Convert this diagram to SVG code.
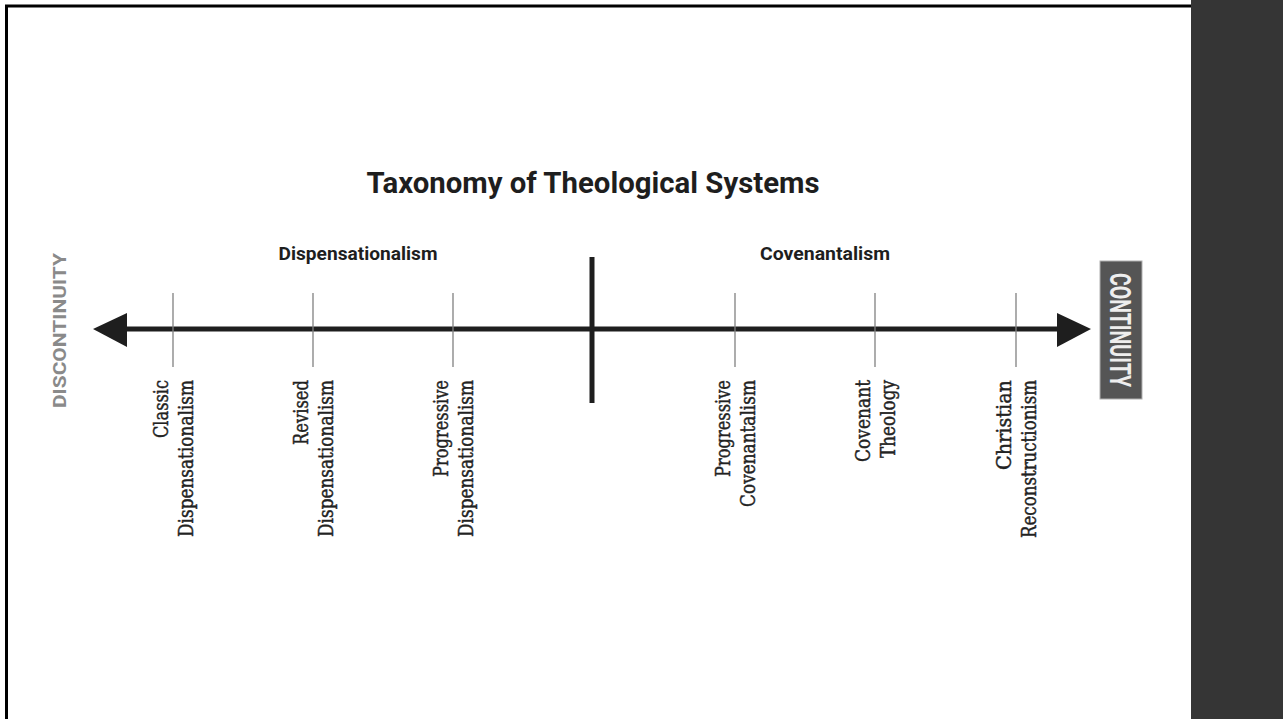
<svg xmlns="http://www.w3.org/2000/svg" width="1283" height="719" viewBox="0 0 1283 719">
<style>
.title{font-family:Roboto,"Liberation Sans",sans-serif;font-weight:bold;font-size:29px;fill:#1e1e1e;text-anchor:middle}
.hdr{font-family:Roboto,"Liberation Sans",sans-serif;font-weight:bold;font-size:18px;fill:#1e1e1e;text-anchor:middle}
.lbl{font-family:"DejaVu Serif","Liberation Serif",serif;font-size:20px;fill:#222;stroke:#222;stroke-width:0.45;text-anchor:end}
.tick{stroke:#808080;stroke-width:1.3}
.axis{stroke:#1e1e1e;stroke-width:5;fill:none}
.head{fill:#1e1e1e}
.dis{font-family:Roboto,"Liberation Sans",sans-serif;font-weight:bold;font-size:19px;fill:#8a8a8a}
.con{font-family:Roboto,"Liberation Sans",sans-serif;font-weight:bold;font-size:30px;fill:#eeeeee}
</style>
<rect x="0" y="0" width="1283" height="719" fill="#ffffff"/>
<rect x="6.5" y="6" width="1250" height="800" fill="none" stroke="#000" stroke-width="3"/>
<rect x="1191" y="0" width="92" height="719" fill="#353535"/>

<text class="title" x="593" y="193" textLength="453" lengthAdjust="spacingAndGlyphs">Taxonomy of Theological Systems</text>
<text id="hdr-disp" class="hdr" x="358" y="260" textLength="159" lengthAdjust="spacingAndGlyphs">Dispensationalism</text>
<text id="hdr-cov" class="hdr" x="825" y="260" textLength="130" lengthAdjust="spacingAndGlyphs">Covenantalism</text>

<g id="connectors">
<line class="axis" x1="124" y1="329" x2="1060" y2="329"/>
<polygon class="head" points="93,329 127,313 127,347"/>
<polygon class="head" points="1091,329 1057,313 1057,347"/>
<line x1="592" y1="257" x2="592" y2="403" stroke="#1e1e1e" stroke-width="5"/>
<line class="tick" x1="173" y1="293" x2="173" y2="367"/>
<line class="tick" x1="313" y1="293" x2="313" y2="367"/>
<line class="tick" x1="453" y1="293" x2="453" y2="367"/>
<line class="tick" x1="735" y1="293" x2="735" y2="367"/>
<line class="tick" x1="875" y1="293" x2="875" y2="367"/>
<line class="tick" x1="1016" y1="293" x2="1016" y2="367"/>
</g>

<g id="discontinuity">
<text class="dis" transform="translate(66,408) rotate(-90)" textLength="155" lengthAdjust="spacingAndGlyphs">DISCONTINUITY</text>
</g>

<g id="continuity">
<rect x="1100" y="261" width="42" height="138" fill="#555555" stroke="#b0b0b0" stroke-width="1"/>
<text class="con" transform="translate(1110,273) rotate(90)" textLength="114" lengthAdjust="spacingAndGlyphs">CONTINUITY</text>
</g>

<g id="n-classic" transform="translate(173,380) rotate(-90)">
<text class="lbl"><tspan x="0" y="-5" textLength="58" lengthAdjust="spacingAndGlyphs">Classic</tspan><tspan x="0" y="20" textLength="157" lengthAdjust="spacingAndGlyphs">Dispensationalism</tspan></text>
</g>
<g id="n-revised" transform="translate(313,380) rotate(-90)">
<text class="lbl"><tspan x="0" y="-5" textLength="65" lengthAdjust="spacingAndGlyphs">Revised</tspan><tspan x="0" y="20" textLength="157" lengthAdjust="spacingAndGlyphs">Dispensationalism</tspan></text>
</g>
<g id="n-progdisp" transform="translate(453,380) rotate(-90)">
<text class="lbl"><tspan x="0" y="-5" textLength="97" lengthAdjust="spacingAndGlyphs">Progressive</tspan><tspan x="0" y="20" textLength="157" lengthAdjust="spacingAndGlyphs">Dispensationalism</tspan></text>
</g>
<g id="n-progcov" transform="translate(735,380) rotate(-90)">
<text class="lbl"><tspan x="0" y="-5" textLength="97" lengthAdjust="spacingAndGlyphs">Progressive</tspan><tspan x="0" y="20" textLength="127" lengthAdjust="spacingAndGlyphs">Covenantalism</tspan></text>
</g>
<g id="n-covtheo" transform="translate(875,380) rotate(-90)">
<text class="lbl"><tspan x="0" y="-5" textLength="82" lengthAdjust="spacingAndGlyphs">Covenant</tspan><tspan x="0" y="20" textLength="78" lengthAdjust="spacingAndGlyphs">Theology</tspan></text>
</g>
<g id="n-christrecon" transform="translate(1016,380) rotate(-90)">
<text class="lbl"><tspan x="0" y="-5" textLength="90" lengthAdjust="spacingAndGlyphs">Christian</tspan><tspan x="0" y="20" textLength="158" lengthAdjust="spacingAndGlyphs">Reconstructionism</tspan></text>
</g>
</svg>
